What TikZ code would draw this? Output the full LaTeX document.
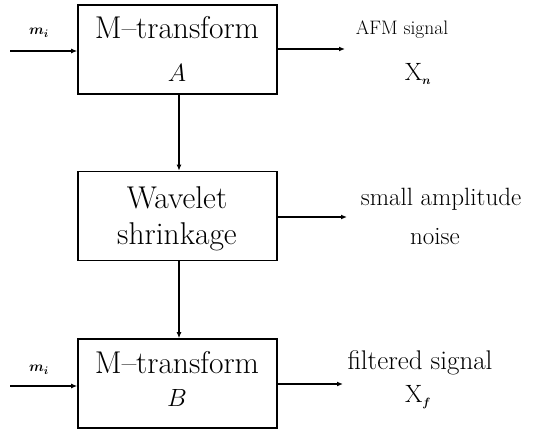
\documentclass[tikz,border=0pt]{standalone}
\usetikzlibrary{arrows.meta}
\usepackage{amsmath,bm}
\begin{document}
\begin{tikzpicture}[x=1pt,y=1pt,
  blockbox/.style={draw, line width=1.6pt, minimum width=199pt, minimum height=89pt, inner sep=0pt},
  arr/.style={line width=1.4pt, -{Latex[length=6pt,width=5pt]}},
  lbl/.style={inner sep=0pt, align=center},
  big/.style={lbl, font=\fontsize{31.5}{34}\selectfont}]
\useasboundingbox (0,0) rectangle (536,-431);
% blocks
\node[blockbox] (A) at (177.5,-49.5) {};
\node[blockbox] (W) at (177.5,-216) {};
\node[blockbox] (B) at (177.5,-383.5) {};
\node[big] (A1) at (177,-28) {M--transform};
\node[big] (A2) at (177,-73) {\fontsize{28}{30}\selectfont$A$};
\node[big] (W1) at (177,-198) {Wavelet};
\node[big] (W2) at (177,-237) {shrinkage};
\node[big] (B1) at (177,-363) {M--transform};
\node[big] (B2) at (177,-398) {\fontsize{28}{30}\selectfont$B$};
% inputs
\coordinate (inA) at (10,-51);
\coordinate (inB) at (10,-386);
\node[lbl] (mA) at (39,-33) {\fontsize{15}{18}\selectfont$\bm{m}_{\bm{i}}$};
\node[lbl] (mB) at (39,-370) {\fontsize{15}{18}\selectfont$\bm{m}_{\bm{i}}$};
\draw[arr] (inA) -- (inA -| A.west);
\draw[arr] (inB) -- (inB -| B.west);
% outputs
\coordinate (outA) at (345,-49);
\coordinate (outW) at (347,-217);
\coordinate (outB) at (343,-384);
\draw[arr] (outA -| A.east) -- (outA);
\draw[arr] (outW -| W.east) -- (outW);
\draw[arr, line width=2.2pt] (outB -| B.east) -- (outB);
% vertical
\draw[arr, line width=1.8pt] (A.south -| 179,0) -- (W.north -| 179,0);
\draw[arr, line width=1.8pt] (W.south -| 179,0) -- (B.north -| 179,0);
% labels
\node[lbl] (afm) at (402,-30) {\fontsize{19.5}{22}\selectfont AFM signal};
\node[lbl] (xn) at (418,-74) {\fontsize{25}{28}\selectfont X$_{\scriptscriptstyle\bm{n}}$};
\node[lbl] (sa) at (441,-199) {\fontsize{25}{28}\selectfont small amplitude};
\node[lbl] (noise) at (435,-237) {\fontsize{25}{28}\selectfont noise};
\node[lbl] (fs) at (420,-363) {\fontsize{27}{30}\selectfont filtered signal};
\node[lbl] (xf) at (418,-397) {\fontsize{25}{28}\selectfont X$_{\scriptscriptstyle\bm{f}}$};
\end{tikzpicture}
\end{document}
